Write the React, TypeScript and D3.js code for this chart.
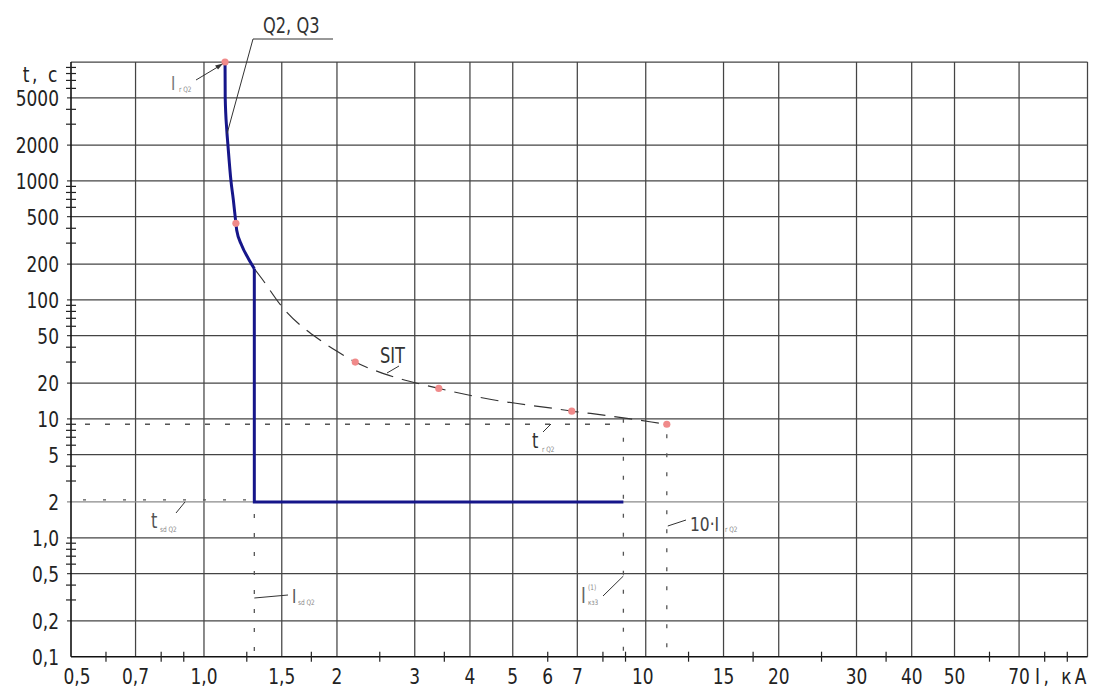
import React, { useEffect, useRef } from "react";
import * as d3 from "d3";

// axis ticks (current I, kA and time t, s)
const xTickValues = [0.5, 0.7, 1, 1.5, 2, 3, 4, 5, 6, 7, 10, 15, 20, 30, 40, 50, 70];
const xTickLabels = ["0,5", "0,7", "1,0", "1,5", "2", "3", "4", "5", "6", "7", "10", "15", "20", "30", "40", "50", "70"];
const xGridValues = [0.7, 1, 1.5, 2, 3, 4, 5, 7, 10, 15, 20, 30, 40, 50, 70, 100];
const xMinorTicks = [0.6, 0.8, 0.9, 1.25, 1.75, 2.5, 3.5, 6, 8, 9, 12.5, 17.5, 25, 35, 60, 80, 90];
const yTickValues = [5000, 2000, 1000, 500, 200, 100, 50, 20, 10, 5, 2, 1, 0.5, 0.2, 0.1];
const yTickLabels = ["5000", "2000", "1000", "500", "200", "100", "50", "20", "10", "5", "2", "1,0", "0,5", "0,2", "0,1"];
const yGridValues = [10000, 5000, 2000, 1000, 500, 200, 100, 50, 20, 10, 5, 2, 1, 0.5, 0.2];
const yMinorDecades = [0.1, 1, 10, 100, 1000];
const yMinorSteps = [3, 4, 6, 7, 8, 9];

// Q2 thermal release (long time part)
const q2Current = [1.116, 1.117, 1.126, 1.133, 1.151, 1.165, 1.181, 1.186, 1.217, 1.26, 1.3];
const q2Time = [10000, 5000, 2700, 2000, 1000, 700, 440, 385, 288, 223, 183];
// short time delay step
const sdCurrent = [1.3, 1.3, 8.9];
const sdTime = [183, 2, 2];

// SIT dashed curve
const sitCurrent = [1.3, 1.35, 1.5, 1.83, 2.0, 2.2, 2.55, 3.16, 3.4, 4.44, 6.3, 6.8, 7.5, 8.9, 10.3, 11.16];
const sitTime = [183, 152, 88, 46, 37, 30, 24, 19.2, 18, 14.6, 12.1, 11.6, 11.1, 10.2, 9.4, 9];

// pink points
const markerCurrent = [1.116, 1.181, 2.2, 3.4, 6.8, 11.16];
const markerTime = [10000, 440, 30, 18, 11.6, 9];

// reference values
const trQ2 = 9;
const tsdQ2 = 2;
const IsdQ2 = 1.3;
const Ikz3 = 8.9;
const tenIrQ2 = 11.16;

const FONT = "'DejaVu Sans Condensed','DejaVu Sans',sans-serif";
const SQUEEZE = 0.86;

const App = () => {
  const svgRef = useRef(null);

  useEffect(() => {
    document.body.style.margin = "0";
    const svg = d3.select(svgRef.current);
    svg.selectAll("*").remove();

    const left = 71, right = 1087.5, top = 62, bottom = 656.7;

    const x = d3.scaleLog().domain([0.5, 100]).range([left, right]);
    const y = d3.scaleLog().domain([0.1, 10000]).range([bottom, top]);

    // narrow technical lettering
    const label = (tx, ty, str, size, color, anchor = "start") =>
      svg
        .append("text")
        .attr("transform", `translate(${tx},${ty}) scale(${SQUEEZE},1)`)
        .attr("text-anchor", anchor)
        .attr("font-family", FONT)
        .attr("font-size", size)
        .attr("fill", color)
        .text(str);

    // grid
    svg
      .append("g")
      .selectAll("line")
      .data(xGridValues)
      .enter()
      .append("line")
      .attr("x1", (d) => x(d))
      .attr("x2", (d) => x(d))
      .attr("y1", top)
      .attr("y2", bottom)
      .attr("stroke", "#444")
      .attr("stroke-width", 1.25);

    svg
      .append("g")
      .selectAll("line")
      .data(yGridValues)
      .enter()
      .append("line")
      .attr("x1", (d) => (d === 10000 ? left : left - 4))
      .attr("x2", right)
      .attr("y1", (d) => y(d))
      .attr("y2", (d) => y(d))
      .attr("stroke", (d) => (d === 2 ? "#8a8a8a" : "#444"))
      .attr("stroke-width", 1.25);

    // axes lines
    svg.append("line").attr("x1", left).attr("x2", left).attr("y1", top).attr("y2", bottom)
      .attr("stroke", "#111").attr("stroke-width", 1.6);
    svg.append("line").attr("x1", left).attr("x2", right).attr("y1", bottom).attr("y2", bottom)
      .attr("stroke", "#111").attr("stroke-width", 1.6);

    // minor ticks
    svg
      .append("g")
      .selectAll("line")
      .data(xMinorTicks)
      .enter()
      .append("line")
      .attr("x1", (d) => x(d))
      .attr("x2", (d) => x(d))
      .attr("y1", bottom - 5)
      .attr("y2", bottom + 5)
      .attr("stroke", "#222")
      .attr("stroke-width", 1.2);

    const yMinor = yMinorDecades.flatMap((dec) => yMinorSteps.map((s) => dec * s));
    svg
      .append("g")
      .selectAll("line")
      .data(yMinor)
      .enter()
      .append("line")
      .attr("x1", left - 5)
      .attr("x2", left + 5)
      .attr("y1", (d) => y(d))
      .attr("y2", (d) => y(d))
      .attr("stroke", "#222")
      .attr("stroke-width", 1.2);

    // tick labels
    xTickValues.forEach((d, i) => {
      label(x(d) + (d === 0.5 ? 6 : d === 10 ? -3 : 0), 684, xTickLabels[i], 22, "#222", "middle");
    });
    yTickValues.forEach((d, i) => {
      label(59, y(d) + 8, yTickLabels[i], 22, "#222", "end");
    });

    label(60, 82, "t, c", 22, "#222", "end").attr("letter-spacing", 3);
    label(1035, 684, "I, кА", 22, "#222").attr("letter-spacing", 4);

    // dotted reference lines
    const dotted = (x1, y1, x2, y2, dash) =>
      svg.append("line").attr("x1", x1).attr("y1", y1).attr("x2", x2).attr("y2", y2)
        .attr("stroke", "#555").attr("stroke-width", 1.3).attr("stroke-dasharray", dash);

    dotted(left + 14, y(trQ2), x(Ikz3), y(trQ2), "5,15");
    dotted(x(Ikz3), y(10), x(Ikz3), bottom, "4,15");
    dotted(x(tenIrQ2), y(trQ2) + 10, x(tenIrQ2), bottom, "4,15");
    dotted(x(IsdQ2), y(tsdQ2) + 12, x(IsdQ2), bottom, "4,15");
    dotted(left + 12, y(tsdQ2) - 2, x(IsdQ2), y(tsdQ2) - 2, "3,17");

    // SIT curve
    const line = d3
      .line()
      .x((d) => x(d[0]))
      .y((d) => y(d[1]));

    svg
      .append("path")
      .attr("d", line.curve(d3.curveMonotoneX)(sitCurrent.map((c, i) => [c, sitTime[i]])))
      .attr("fill", "none")
      .attr("stroke", "#333")
      .attr("stroke-width", 1.2)
      .attr("stroke-dasharray", "18,9");

    // Q2 characteristic
    svg
      .append("path")
      .attr("d", line.curve(d3.curveMonotoneX)(q2Current.map((c, i) => [c, q2Time[i]])))
      .attr("fill", "none")
      .attr("stroke", "#16168a")
      .attr("stroke-width", 3);

    svg
      .append("path")
      .attr("d", line.curve(d3.curveLinear)(sdCurrent.map((c, i) => [c, sdTime[i]])))
      .attr("fill", "none")
      .attr("stroke", "#16168a")
      .attr("stroke-width", 3)
      .attr("stroke-linejoin", "miter");

    // markers
    svg
      .append("g")
      .selectAll("circle")
      .data(markerCurrent)
      .enter()
      .append("circle")
      .attr("cx", (d) => x(d))
      .attr("cy", (d, i) => y(markerTime[i]))
      .attr("r", 3.6)
      .attr("fill", "#f08a8a");

    // annotations
    const leader = (x1, y1, x2, y2) =>
      svg.append("line").attr("x1", x1).attr("y1", y1).attr("x2", x2).attr("y2", y2)
        .attr("stroke", "#333").attr("stroke-width", 1);

    // Q2, Q3
    label(263, 33, "Q2, Q3", 21, "#333");
    leader(253, 39, 333, 39);
    leader(253, 39, x(1.128), y(2500));

    // I r Q2 arrow
    label(171, 90, "I", 19, "#777");
    label(179, 92, "r Q2", 7.5, "#888");
    leader(196, 80, x(1.116) - 4, y(10000) + 3);
    svg.append("path")
      .attr("d", `M${x(1.116) - 2},${y(10000) + 1.5} l-8,2 l3,4 z`)
      .attr("fill", "#333");

    // SIT
    label(380, 363, "SIT", 21, "#333");
    leader(399, 366, 387, 373);

    // t r Q2
    label(532, 448, "t", 21, "#333");
    label(542, 452, "r Q2", 7.5, "#888");
    leader(543, 432, 551, 424);

    // t sd Q2
    label(151, 528, "t", 21, "#555");
    label(160, 532, "sd Q2", 7.5, "#888");
    leader(176, 513, 185, y(tsdQ2));

    // I sd Q2
    label(292, 603, "I", 19, "#555");
    label(298, 605, "sd Q2", 7.5, "#888");
    leader(x(IsdQ2), 598, 288, 595);

    // I кз3 (1)
    label(581, 603, "I", 21, "#666");
    label(588, 590, "(1)", 7.5, "#888");
    label(588, 605, "кз3", 7.5, "#888");
    leader(603, 596, x(Ikz3), 576);

    // 10 I r Q2
    label(690, 531, "10·I", 20, "#444");
    label(725, 532, "r Q2", 7.5, "#888");
    leader(x(tenIrQ2) + 1, 526, 686, 520);
  }, []);

  return <svg ref={svgRef} width={1094} height={688} style={{ display: "block" }}></svg>;
};

export default App;
